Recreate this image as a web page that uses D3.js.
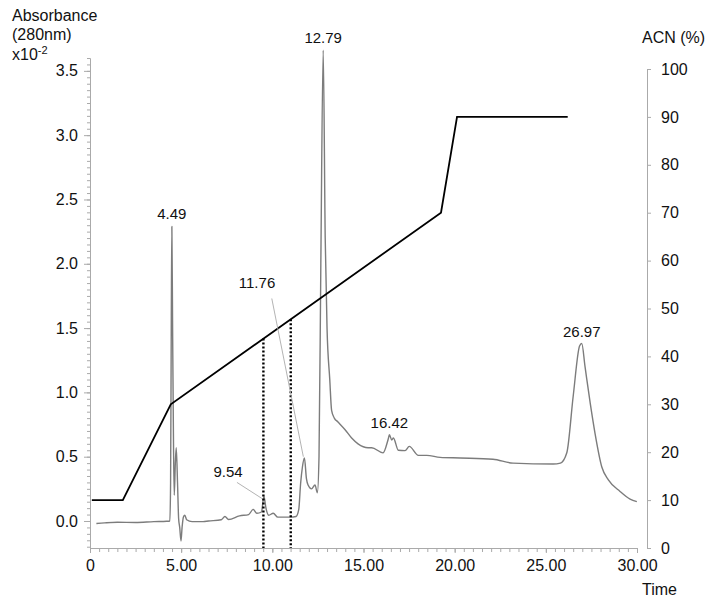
<!DOCTYPE html>
<html>
<head>
<meta charset="utf-8">
<script src="https://cdn.jsdelivr.net/npm/d3@7"></script>
<style>
  body { margin: 0; background: #fff; }
  svg { font-family: "Liberation Sans", Arial, sans-serif; }
</style>
</head>
<body>
<div id="chart"></div>
<script>
// chromatogram trace: retention time (min), absorbance (x10^-2)
const traceTime = [0.35, 0.8, 1.5, 2.5, 3.5, 4.2, 4.38, 4.42, 4.46, 4.49, 4.53, 4.58, 4.62, 4.68, 4.73, 4.8, 4.86, 4.92, 4.99, 5.05, 5.12, 5.2, 5.3, 5.6, 6.2, 6.5, 7.2, 7.4, 7.6, 8.2, 8.7, 8.95, 9.15, 9.4, 9.54, 9.65, 9.8, 10.05, 10.3, 11.0, 11.3, 11.45, 11.55, 11.65, 11.76, 11.87, 11.96, 12.15, 12.34, 12.47, 12.56, 12.66, 12.79, 12.9, 13.0, 13.15, 13.25, 13.4, 13.6, 13.99, 14.35, 14.7, 15.25, 15.45, 16.07, 16.36, 16.42, 16.55, 16.64, 16.91, 17.28, 17.51, 18.01, 18.47, 19.2, 20.3, 22.1, 23.2, 25.4, 25.8, 26.15, 26.5, 26.85, 26.97, 27.15, 27.43, 27.7, 28.07, 28.43, 29.07, 29.62, 29.99];
const traceAbs = [-0.02, -0.015, -0.01, -0.012, -0.005, -0.002, 0.0, 0.3, 1.6, 2.29, 1.5, 0.6, 0.2, 0.45, 0.57, 0.3, 0.02, -0.05, -0.155, -0.05, 0.03, 0.045, 0.01, -0.005, -0.005, 0.0, 0.01, 0.035, 0.012, 0.04, 0.05, 0.09, 0.06, 0.07, 0.19, 0.1, 0.045, 0.06, 0.03, 0.03, 0.035, 0.09, 0.29, 0.42, 0.49, 0.33, 0.28, 0.25, 0.28, 0.22, 0.5, 2.0, 3.66, 2.2, 1.5, 1.1, 0.86, 0.8, 0.77, 0.71, 0.645, 0.6, 0.57, 0.57, 0.53, 0.64, 0.67, 0.63, 0.645, 0.55, 0.547, 0.58, 0.51, 0.51, 0.495, 0.49, 0.48, 0.45, 0.443, 0.45, 0.53, 0.97, 1.36, 1.38, 1.2, 0.92, 0.68, 0.42, 0.32, 0.23, 0.17, 0.15];

// gradient programme: time (min), ACN (%)
const gradTime = [0.1, 1.8, 4.43, 19.25, 20.13, 26.2];
const gradAcn = [10, 10, 30, 70, 90, 90];

// fraction cut times (min)
const fractionCuts = [9.51, 11.01];

// peak labels
const peakText = ['4.49', '12.79', '16.42', '26.97'];
const peakTime = [4.49, 12.79, 16.42, 26.97];
const peakAbs = [2.29, 3.66, 0.67, 1.38];

// labels with leader lines: text position and line end (time, abs)
const calloutText = ['9.54', '11.76'];
const calloutTime = [7.57, 9.16];
const calloutAbs = [0.34, 1.81];
const calloutFrom = [[8.06, 0.30], [9.97, 1.73]];
const calloutTo = [[9.43, 0.175], [11.70, 0.5]];

// axis ticks
const absTicks = [0, 0.5, 1.0, 1.5, 2.0, 2.5, 3.0, 3.5];
const acnTicks = [0, 10, 20, 30, 40, 50, 60, 70, 80, 90, 100];
const timeTicks = [0, 5, 10, 15, 20, 25, 30];

const width = 713;
const height = 604;

const svg = d3.select('#chart')
  .append('svg')
  .attr('width', width)
  .attr('height', height);

const x = d3.scaleLinear().domain([0, 30]).range([90, 637]);
const yL = d3.scaleLinear().domain([-0.21, 3.6]).range([548, 58]);
const yR = d3.scaleLinear().domain([0, 100]).range([548, 69]);

const axisColor = '#aaa';

function styleAxis(g) {
  g.select('.domain').attr('stroke', axisColor);
  g.selectAll('.tick line').attr('stroke', axisColor);
  g.selectAll('.tick text')
    .attr('fill', '#111')
    .style('font-size', '16px')
    .style('font-family', '"Liberation Sans", Arial, sans-serif');
}

// left axis, minor ticks first
const minorAbs = d3.range(-20, 361, 5).map((d) => d / 100);
svg.append('g')
  .attr('transform', `translate(${x(0)},0)`)
  .call(d3.axisLeft(yL).tickValues(minorAbs).tickSize(3).tickSizeOuter(0).tickFormat(''))
  .call(styleAxis);

svg.append('g')
  .attr('transform', `translate(${x(0)},0)`)
  .call(d3.axisLeft(yL).tickValues(absTicks).tickSize(6).tickSizeOuter(0).tickPadding(6)
    .tickFormat(d3.format('.1f')))
  .call(styleAxis);

// bottom axis
const minorTime = d3.range(0, 60.5, 1).map((d) => d / 2);
svg.append('g')
  .attr('transform', `translate(0,${yL(-0.21)})`)
  .call(d3.axisBottom(x).tickValues(minorTime).tickSize(4).tickSizeOuter(0).tickFormat(''))
  .call(styleAxis);

svg.append('g')
  .attr('transform', `translate(0,${yL(-0.21)})`)
  .call(d3.axisBottom(x).tickValues(timeTicks).tickSize(5).tickSizeOuter(0).tickPadding(7)
    .tickFormat((d) => (d === 0 ? '0' : d.toFixed(2))))
  .call(styleAxis);

// right axis
svg.append('g')
  .attr('transform', 'translate(647,0)')
  .call(d3.axisRight(yR).tickValues(acnTicks).tickSize(4).tickSizeOuter(0).tickPadding(10))
  .call(styleAxis);

// axis titles
const titleLeft = svg.append('text')
  .attr('x', 12)
  .attr('font-size', 16)
  .attr('fill', '#111');
titleLeft.append('tspan').attr('x', 12).attr('y', 21).text('Absorbance');
titleLeft.append('tspan').attr('x', 12).attr('y', 40).text('(280nm)');
titleLeft.append('tspan').attr('x', 12).attr('y', 60).text('x10');
titleLeft.append('tspan').attr('font-size', 11).attr('dy', -6).text('-2');

svg.append('text')
  .attr('x', 642).attr('y', 43)
  .attr('font-size', 16).attr('fill', '#111')
  .text('ACN (%)');

svg.append('text')
  .attr('x', 642).attr('y', 595)
  .attr('font-size', 16).attr('fill', '#111')
  .text('Time');

// trace
const trace = traceTime.map((t, i) => [t, traceAbs[i]]);
svg.append('path')
  .datum(trace)
  .attr('fill', 'none')
  .attr('stroke', '#7c7c7c')
  .attr('stroke-width', 1.4)
  .attr('stroke-linejoin', 'round')
  .attr('d', d3.line().curve(d3.curveMonotoneX).x((d) => x(d[0])).y((d) => yL(d[1])));

// gradient
const grad = gradTime.map((t, i) => [t, gradAcn[i]]);
svg.append('path')
  .datum(grad)
  .attr('fill', 'none')
  .attr('stroke', '#000')
  .attr('stroke-width', 1.8)
  .attr('d', d3.line().x((d) => x(d[0])).y((d) => yR(d[1])));

// fraction cut lines, from the gradient line down to the axis
const gradAt = d3.scaleLinear().domain(gradTime).range(gradAcn);
svg.append('g')
  .selectAll('line')
  .data(fractionCuts)
  .join('line')
  .attr('x1', (d) => x(d))
  .attr('x2', (d) => x(d))
  .attr('y1', (d) => yR(gradAt(d)))
  .attr('y2', yR(0))
  .attr('stroke', '#000')
  .attr('stroke-width', 2.4)
  .attr('stroke-dasharray', '2,2');

// peak labels
svg.append('g')
  .selectAll('text')
  .data(peakText)
  .join('text')
  .attr('x', (d, i) => x(peakTime[i]))
  .attr('y', (d, i) => yL(peakAbs[i]) - 7)
  .attr('text-anchor', 'middle')
  .attr('font-size', 15)
  .attr('fill', '#111')
  .text((d) => d);

// callouts with leader lines
svg.append('g')
  .selectAll('line')
  .data(calloutText)
  .join('line')
  .attr('x1', (d, i) => x(calloutFrom[i][0]))
  .attr('y1', (d, i) => yL(calloutFrom[i][1]))
  .attr('x2', (d, i) => x(calloutTo[i][0]))
  .attr('y2', (d, i) => yL(calloutTo[i][1]))
  .attr('stroke', '#aaa')
  .attr('stroke-width', 0.9);

svg.append('g')
  .selectAll('text')
  .data(calloutText)
  .join('text')
  .attr('x', (d, i) => x(calloutTime[i]))
  .attr('y', (d, i) => yL(calloutAbs[i]))
  .attr('text-anchor', 'middle')
  .attr('font-size', 15)
  .attr('fill', '#111')
  .text((d) => d);
</script>
</body>
</html>
